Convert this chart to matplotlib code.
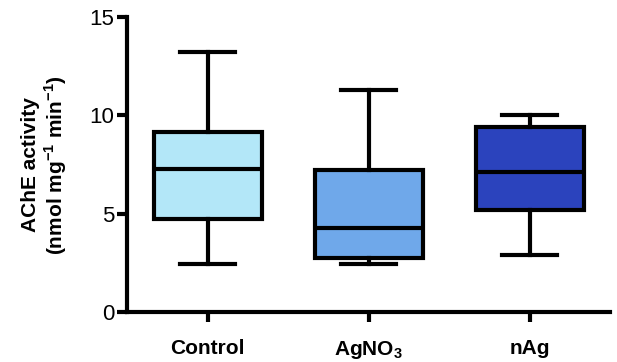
import matplotlib.pyplot as plt

plt.rcParams['font.family'] = ['Liberation Sans', 'DejaVu Sans']
plt.rcParams['mathtext.fontset'] = 'custom'
plt.rcParams['mathtext.rm'] = 'Liberation Sans:bold'
plt.rcParams['mathtext.bf'] = 'Liberation Sans:bold'

# summary statistics per group (min, q1, median, q3, max)
groups = ['Control', r'AgNO$_3$', 'nAg']
whisker_low = [2.48, 2.45, 2.9]
q1 = [4.76, 2.74, 5.21]
medians = [7.28, 4.28, 7.15]
q3 = [9.18, 7.23, 9.42]
whisker_high = [13.2, 11.27, 10.04]
colors = ['#B3E7F8', '#6FA8EA', '#2B43BD']

stats = []
for i in range(len(groups)):
    stats.append({'whislo': whisker_low[i], 'q1': q1[i], 'med': medians[i],
                  'q3': q3[i], 'whishi': whisker_high[i], 'fliers': []})

fig = plt.figure(figsize=(6.17, 3.62), dpi=100)
ax = fig.add_axes([0.206, 0.137, 0.783, 0.816])

lw = 3
bp = ax.bxp(stats, positions=[1, 2, 3], widths=0.67, patch_artist=True,
            showfliers=False,
            boxprops=dict(linewidth=lw, edgecolor='black'),
            medianprops=dict(linewidth=lw, color='black'),
            whiskerprops=dict(linewidth=lw, color='black'),
            capprops=dict(linewidth=lw, color='black'),
            capwidths=0.34)
for patch, c in zip(bp['boxes'], colors):
    patch.set_facecolor(c)

ax.set_xlim(0.5, 3.5)
ax.set_ylim(0, 15)
ax.set_yticks([0, 5, 10, 15])
ax.set_xticks([1, 2, 3])
ax.set_xticklabels(groups, fontsize=15, fontweight='bold')
for sp in ['top', 'right']:
    ax.spines[sp].set_visible(False)
for sp in ['left', 'bottom']:
    ax.spines[sp].set_linewidth(lw)
ax.tick_params(axis='y', length=7, width=lw, labelsize=16, pad=2)
ax.tick_params(axis='x', length=7, width=lw, pad=12)
ax.set_ylabel('AChE activity\n(nmol mg$^{-1}$ min$^{-1}$)', fontsize=15,
              fontweight='bold', labelpad=15, linespacing=1.1)

fig.savefig('out.png')
